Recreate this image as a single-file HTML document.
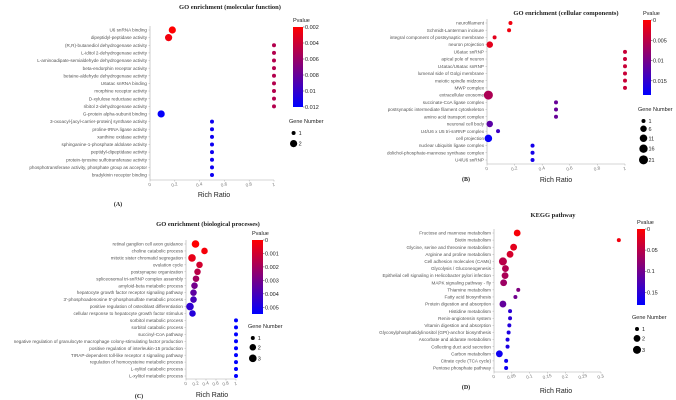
<!DOCTYPE html>
<html><head><meta charset="utf-8">
<style>
html,body{margin:0;padding:0;background:#fff;}
svg{display:block;}
text{font-family:"Liberation Sans",sans-serif;}
.lbl{font-size:4.6px;fill:#555;}
.tt{font-family:"Liberation Serif",serif;font-size:6.5px;font-weight:bold;fill:#222;}
.ax{font-size:7px;fill:#222;}
.tk{font-size:4.6px;fill:#777;}
.lg{font-size:5.5px;fill:#222;}
.pl{font-family:"Liberation Serif",serif;font-size:6px;font-weight:bold;fill:#222;}
</style></head>
<body>
<svg id="fig" width="676" height="400" viewBox="0 0 676 400">
<defs>
<linearGradient id="grad" x1="0" y1="0" x2="0" y2="1">
<stop offset="0" stop-color="#ff0000"/><stop offset="1" stop-color="#0000ff"/>
</linearGradient>
</defs>
</svg>
<script>
// ---- Panel A data ----
const termsA=["U6 snRNA binding","dipeptidyl-peptidase activity","(R,R)-butanediol dehydrogenase activity","L-iditol 2-dehydrogenase activity","L-aminoadipate-semialdehyde dehydrogenase activity","beta-endorphin receptor activity","betaine-aldehyde dehydrogenase activity","U6atac snRNA binding","morphine receptor activity","D-xylulose reductase activity","ribitol 2-dehydrogenase activity","G-protein alpha-subunit binding","3-oxoacyl-[acyl-carrier-protein] synthase activity","proline-tRNA ligase activity","xanthine oxidase activity","sphinganine-1-phosphate aldolase activity","peptidyl-dipeptidase activity","protein-tyrosine sulfotransferase activity","phosphotransferase activity, phosphate group as acceptor","bradykinin receptor binding"];
const ratioA=[0.18,0.15,1,1,1,1,1,1,1,1,1,0.09,0.5,0.5,0.5,0.5,0.5,0.5,0.5,0.5];
const pvalA=[0.002,0.0025,0.005,0.005,0.005,0.005,0.005,0.005,0.005,0.005,0.005,0.0118,0.0115,0.0115,0.0115,0.0115,0.0115,0.0115,0.0115,0.0115];
const genesA=[2,2,1,1,1,1,1,1,1,1,1,2,1,1,1,1,1,1,1,1];
const ticksA=["0","0.2","0.4","0.6","0.8","1"];
const ptickA=["0.002","0.004","0.006","0.008","0.01","0.012"];
const legA=[1,2];
// ---- Panel B data ----
const termsB=["neurofilament","Schmidt-Lanterman incisure","integral component of postsynaptic membrane","neuron projection","U6atac snRNP","apical pole of neuron","U4atac/U6atac snRNP","lumenal side of Golgi membrane","meiotic spindle midzone","MWP complex","extracellular exosome","succinate-CoA ligase complex","postsynaptic intermediate filament cytoskeleton","amino acid transport complex","neuronal cell body","U4/U6 x U5 tri-snRNP complex","cell projection","nuclear ubiquitin ligase complex","dolichol-phosphate-mannose synthase complex","U4/U6 snRNP"];
const ratioB=[0.17,0.16,0.055,0.02,1,1,1,1,1,1,0.01,0.5,0.5,0.5,0.02,0.08,0.01,0.33,0.33,0.33];
const pvalB=[0.001,0.001,0.002,0.002,0.004,0.004,0.004,0.004,0.004,0.004,0.006,0.011,0.011,0.011,0.012,0.014,0.018,0.017,0.017,0.017];
const genesB=[1,1,1,6,1,1,1,1,1,1,21,1,1,1,6,1,11,1,1,1];
const ticksB=["0","0.2","0.4","0.6","0.8","1"];
const ptickB=["0","0.005","0.01","0.015"];
const legB=[1,6,11,16,21];
// ---- Panel C data ----
const termsC=["retinal ganglion cell axon guidance","choline catabolic process","mitotic sister chromatid segregation","ovulation cycle","postsynapse organization","spliceosomal tri-snRNP complex assembly","amyloid-beta metabolic process","hepatocyte growth factor receptor signaling pathway","3'-phosphoadenosine 5'-phosphosulfate metabolic process","positive regulation of osteoblast differentiation","cellular response to hepatocyte growth factor stimulus","sorbitol metabolic process","sorbitol catabolic process","succinyl-CoA pathway","negative regulation of granulocyte macrophage colony-stimulating factor production","positive regulation of interleukin-15 production","TIRAP-dependent toll-like receptor 4 signaling pathway","regulation of homocysteine metabolic process","L-xylitol catabolic process","L-xylitol metabolic process"];
const ratioC=[0.19,0.37,0.12,0.27,0.23,0.2,0.17,0.15,0.15,0.08,0.13,1,1,1,1,1,1,1,1,1];
const pvalC=[0,0.0002,0.0005,0.001,0.0015,0.002,0.003,0.0035,0.004,0.0045,0.0047,0.0055,0.0055,0.0055,0.0055,0.0055,0.0055,0.0055,0.0055,0.0055];
const genesC=[3,2,3,2,2,2,2,2,2,3,2,1,1,1,1,1,1,1,1,1];
const ticksC=["0","0.2","0.4","0.6","0.8","1"];
const ptickC=["0","0.001","0.002","0.003","0.004","0.005"];
const legC=[1,2,3];
// ---- Panel D data ----
const termsD=["Fructose and mannose metabolism","Biotin metabolism","Glycine, serine and threonine metabolism","Arginine and proline metabolism","Cell adhesion molecules (CAMs)","Glycolysis / Gluconeogenesis","Epithelial cell signaling in Helicobacter pylori infection","MAPK signaling pathway - fly","Thiamine metabolism","Fatty acid biosynthesis","Protein digestion and absorption","Histidine metabolism","Renin-angiotensin system","Vitamin digestion and absorption","Glycosylphosphatidylinositol (GPI)-anchor biosynthesis","Ascorbate and aldarate metabolism","Collecting duct acid secretion","Carbon metabolism","Citrate cycle (TCA cycle)","Pentose phosphate pathway"];
const ratioD=[0.065,0.35,0.055,0.045,0.025,0.032,0.031,0.027,0.068,0.06,0.025,0.045,0.045,0.043,0.041,0.038,0.038,0.015,0.034,0.034];
const pvalD=[0.005,0.01,0.02,0.03,0.05,0.055,0.06,0.07,0.09,0.1,0.11,0.15,0.15,0.155,0.16,0.16,0.16,0.17,0.17,0.17];
const genesD=[2,1,2,2,3,2,2,2,1,1,2,1,1,1,1,1,1,2,1,1];
const ticksD=["0","0.05","0.1","0.15","0.2","0.25","0.3"];
const ptickD=["0","0.05","0.1","0.15"];
const legD=[1,2,3];

const NS="http://www.w3.org/2000/svg";
const svg=document.getElementById('fig');
function mk(tag,attrs,parent,txt){const e=document.createElementNS(NS,tag);for(const k in attrs)e.setAttribute(k,attrs[k]);if(txt!==undefined)e.textContent=txt;(parent||svg).appendChild(e);return e;}
function lerpColor(t){t=Math.max(0,Math.min(1,t));const r=Math.round(255*(1-t)),b=Math.round(255*t);return `rgb(${r},0,${b})`;}

function panel(id,title,letter,terms,ratios,pvals,genes,ticks,pticks,leg,g){
  const grp=mk('g',{});
  
  
  const n=terms.length;
  const yS=i=>g.y0+(g.y1-g.y0)*i/(n-1);
  const tmax=parseFloat(ticks[ticks.length-1]);
  const xS=v=>g.x0+(g.x1-g.x0)*v/g.xmax;
  const pS=p=>(p-g.pmin)/(g.pmax-g.pmin);
  const rS=k=>g.rmin+(g.rmax-g.rmin)*Math.sqrt((k-g.gmin)/(g.gmax-g.gmin));
  const t=mk('text',{x:g.tx,y:g.ty,'text-anchor':'middle',class:'tt'},grp,title);
  
  const ya=mk('line',{x1:g.x0,y1:g.y0-4,x2:g.x0,y2:g.ax,stroke:'#aaa','stroke-width':0.6},grp);
  
  const xa=mk('line',{x1:g.x0,y1:g.ax,x2:xS(tmax),y2:g.ax,stroke:'#aaa','stroke-width':0.6},grp);
  
  terms.forEach((s,i)=>{
    const l=mk('text',{x:g.x0-3,y:yS(i)+1.6,'text-anchor':'end',class:'lbl'},grp,s);
    
    mk('line',{x1:g.x0-1.5,y1:yS(i),x2:g.x0,y2:yS(i),stroke:'#aaa','stroke-width':0.5},grp);
  });
  ticks.forEach(s=>{
    const x=xS(parseFloat(s));
    mk('line',{x1:x,y1:g.ax,x2:x,y2:g.ax+1.5,stroke:'#aaa','stroke-width':0.5},grp);
    const tl=mk('text',{x:x,y:g.ax+6,'text-anchor':'middle',class:'tk',transform:`rotate(-15 ${x} ${g.ax+6})`},grp,s);
    
  });
  const xt=mk('text',{x:g.xtx,y:g.xty,'text-anchor':'middle',class:'ax'},grp,'Rich Ratio');
  
  const pl=mk('text',{x:g.lx,y:g.lly,'text-anchor':'middle',class:'pl'},grp,letter);
  
  terms.forEach((s,i)=>{
    const c=mk('circle',{cx:xS(ratios[i]),cy:yS(i),r:rS(genes[i]),fill:lerpColor(pS(pvals[i]))},grp);
    
  });
  const cbt=mk('text',{x:g.cbx,y:g.cby0-5,class:'lg'},grp,'Pvalue');
  
  const cb=mk('rect',{x:g.cbx,y:g.cby0,width:g.cbw,height:g.cby1-g.cby0,fill:'url(#grad)'},grp);
  
  pticks.forEach(s=>{
    const y=g.cby0+(g.cby1-g.cby0)*pS(parseFloat(s));
    mk('line',{x1:g.cbx+g.cbw,y1:y,x2:g.cbx+g.cbw+1.5,y2:y,stroke:'#333','stroke-width':0.5},grp);
    const ct=mk('text',{x:g.cbx+g.cbw+2,y:y+2,class:'lg'},grp,s);
    
  });
  const gt=mk('text',{x:g.gx,y:g.gy,class:'lg'},grp,'Gene Number');
  
  let y=g.gy+8;
  leg.forEach(k=>{
    const r=rS(k);
    y+=r;
    const c=mk('circle',{cx:g.gx+4+g.rmax-3,cy:y,r:r,fill:'#000'},grp);
    
    mk('text',{x:g.gx+6+g.rmax,y:y+2,class:'lg'},grp,String(k));
    y+=r+g.gstep;
  });
}

panel('a','GO enrichment (molecular function)','(A)',termsA,ratioA,pvalA,genesA,ticksA,ptickA,legA,
 {x0:150,x1:274,xmax:1,y0:30,y1:175,ax:180,tx:230,ty:9,xtx:214,xty:197,lx:118,lly:206,
  pmin:0.002,pmax:0.012,rmin:2,rmax:3.6,gmin:1,gmax:2,cbx:293,cbw:10,cby0:27,cby1:107,gx:289,gy:123,gstep:5});
panel('b','GO enrichment (cellular components)','(B)',termsB,ratioB,pvalB,genesB,ticksB,ptickB,legB,
 {x0:487,x1:625,xmax:1,y0:23,y1:160,ax:164,tx:566,ty:15,xtx:556,xty:182,lx:466,lly:181,
  pmin:0,pmax:0.0185,rmin:2,rmax:4.5,gmin:1,gmax:21,cbx:643,cbw:8,cby0:20,cby1:95,gx:638,gy:111,gstep:2.5});
panel('c','GO enrichment (biological processes)','(C)',termsC,ratioC,pvalC,genesC,ticksC,ptickC,legC,
 {x0:186,x1:236,xmax:1,y0:244,y1:376,ax:379,tx:208,ty:226,xtx:212,xty:397,lx:139,lly:398,
  pmin:0,pmax:0.0055,rmin:2,rmax:3.8,gmin:1,gmax:3,cbx:252,cbw:11,cby0:240,cby1:314,gx:248,gy:328,gstep:4});
panel('d','KEGG pathway','(D)',termsD,ratioD,pvalD,genesD,ticksD,ptickD,legD,
 {x0:494,x1:601,xmax:0.3,y0:233,y1:368,ax:372,tx:553,ty:217,xtx:556,xty:393,lx:466,lly:389,
  pmin:0,pmax:0.18,rmin:2,rmax:4,gmin:1,gmax:3,cbx:637,cbw:8,cby0:229,cby1:305,gx:632,gy:319,gstep:4});
</script>
</body></html>
